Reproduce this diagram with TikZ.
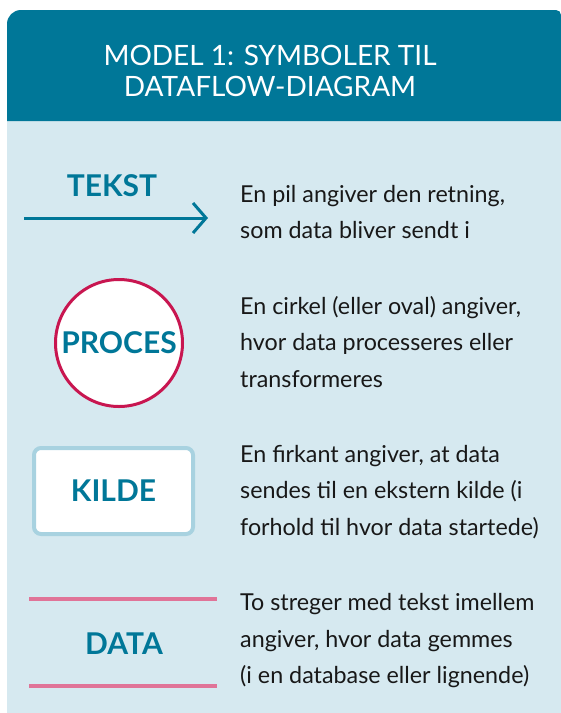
\documentclass[tikz,border=0pt]{standalone}
\usepackage{fontspec}
\setmainfont{Lato}
\usetikzlibrary{arrows.meta}

\definecolor{headteal}{RGB}{0,119,152}
\definecolor{cardblue}{RGB}{214,233,240}
\definecolor{procred}{RGB}{200,22,80}
\definecolor{kildeblue}{RGB}{168,210,224}
\definecolor{datapink}{RGB}{224,116,152}
\definecolor{bodytext}{RGB}{24,24,24}

\tikzset{
  symlabel/.style={text=headteal, font=\fontsize{30}{32}\selectfont\bfseries},
  explain/.style={anchor=west, align=left, text=bodytext, inner sep=0pt,
    font=\fontsize{23.3}{36.5}\selectfont},
  storeline/.style={datapink, line width=4pt},
}

\begin{document}
\begin{tikzpicture}[x=1pt,y=-1pt]

  \useasboundingbox (0,0) rectangle (561,713);
  \fill[white] (0,0) rectangle (561,713);

  % kort og overskrift
  \fill[cardblue] (7,121) rectangle (561,713);
  \fill[headteal] (7,121) [rounded corners=14pt] -- (7,10)
    [rounded corners=5pt] -- (561,10) [sharp corners] -- (561,121) -- cycle;
  \node[text=white, align=center, font=\fontsize{28}{31.5}\selectfont]
    (title) at (270,71) {MODEL 1: SYMBOLER TIL\\DATAFLOW-DIAGRAM};

  % pil
  \node[symlabel] (tekst) at (112,186) {TEKST};
  \coordinate (pilstart) at (24,218);
  \coordinate (pilslut) at (208,218);
  \draw[headteal, line width=3pt, -{Straight Barb[length=13pt, width=30pt]}]
    (pilstart) -- (pilslut);

  % proces
  \node[circle, draw=procred, line width=3pt, fill=white, minimum size=127pt,
    symlabel] (proces) at (119,343) {PROCES};

  % kilde
  \node[draw=kildeblue, line width=4pt, fill=white, rounded corners=7pt,
    minimum width=159pt, minimum height=86pt, symlabel] (kilde) at (113.5,491) {KILDE};

  % datalager
  \coordinate (top1) at (29,599);
  \coordinate (top2) at (217,599);
  \coordinate (bund1) at (29,686);
  \coordinate (bund2) at (217,686);
  \draw[storeline] (top1) -- (top2);
  \draw[storeline] (bund1) -- (bund2);
  \node[symlabel] (data) at (124,644) {DATA};

  % forklaringer
  \node[explain] (tekstinfo) at (240,212) {En pil angiver den retning,\\som data bliver sendt i};
  \node[explain] (procesinfo) at (240,342) {En cirkel (eller oval) angiver,\\hvor data processeres eller\\transformeres};
  \node[explain] (kildeinfo) at (240,492) {En firkant angiver, at data\\sendes til en ekstern kilde (i\\forhold til hvor data startede)};
  \node[explain] (datainfo) at (240,641) {To streger med tekst imellem\\angiver, hvor data gemmes\\(i en database eller lignende)};

\end{tikzpicture}
\end{document}
